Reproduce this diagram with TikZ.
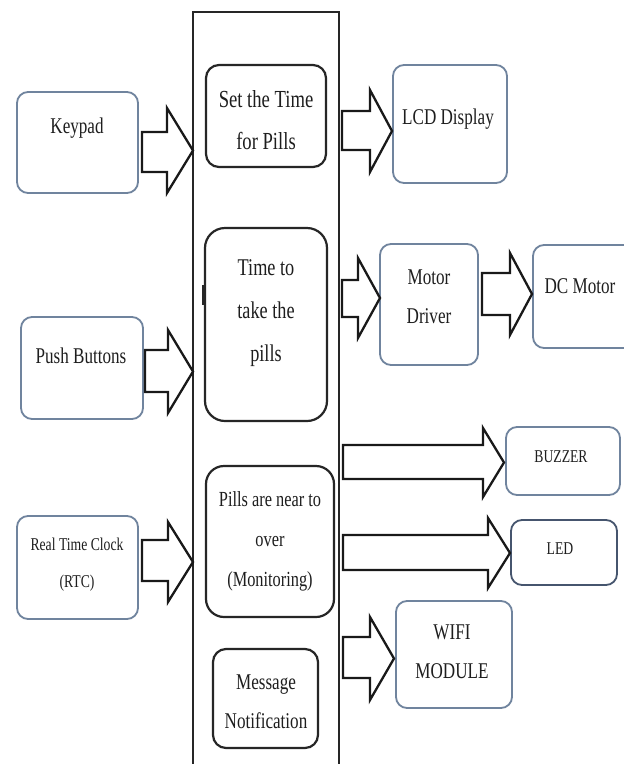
\documentclass[tikz,border=0pt]{standalone}
\usepackage{fontspec}
\setmainfont{Liberation Serif}[FakeStretch=0.76]
\usetikzlibrary{calc}
\definecolor{bluegray}{RGB}{112,132,158}
\definecolor{darkbg}{RGB}{70,85,110}
\definecolor{txt}{RGB}{30,30,30}
\newcommand\blkarrow[7]{%
  \draw[barrow] (#1,#4) -- (#2,#4) -- (#2,#6) -- (#3,{(#6+#7)/2}) -- (#2,#7) -- (#2,#5) -- (#1,#5) -- cycle;}
\begin{document}
\begin{tikzpicture}[x=1pt,y=-1pt,
  bbox/.style={draw=bluegray, line width=1.8pt, rounded corners=11pt, fill=white, inner sep=0pt},
  kbox/.style={draw=black!85, line width=2.2pt, rounded corners=13pt, fill=white, inner sep=0pt},
  lbl/.style={text=txt, align=center, inner sep=0pt, font=\fontsize{22.5}{39}\selectfont},
  slbl/.style={text=txt, align=center, inner sep=0pt, font=\fontsize{18}{37}\selectfont},
  barrow/.style={draw=black!90, line width=2.3pt, fill=white, line join=miter}]
\clip (0,0) rectangle (624,764);
\fill[white] (0,0) rectangle (624,764);
% main controller column (open at the bottom)
\node[draw=black!85, line width=2pt, minimum width=146pt, minimum height=800pt, inner sep=0pt] (ctrl) at (266,412) {};
% input boxes
\node[bbox, minimum width=121pt, minimum height=101pt] (kp) at (77.5,142.5) {};
\node[bbox, minimum width=122pt, minimum height=102pt] (pb) at (82,368) {};
\node[bbox, minimum width=121pt, minimum height=103pt] (rtc) at (77.5,567.5) {};
% inner boxes
\node[kbox, minimum width=120pt, minimum height=102pt] (set) at (266,116) {};
\node[kbox, minimum width=122pt, minimum height=193pt, rounded corners=20pt] (take) at (266,324.5) {};
\node[kbox, minimum width=128pt, minimum height=151pt, rounded corners=18pt] (near) at (270,541.5) {};
\node[kbox, minimum width=105pt, minimum height=99pt] (msg) at (265.5,698.5) {};
\draw[line width=3pt, black!85] (203.5,285) -- (203.5,305);
% output boxes
\node[bbox, minimum width=114pt, minimum height=118pt] (lcd) at (450,124) {};
\node[bbox, minimum width=98pt, minimum height=121pt] (md) at (429,304.5) {};
\node[bbox, minimum width=107pt, minimum height=103pt] (dc) at (586.5,296.5) {};
\node[bbox, minimum width=114pt, minimum height=68pt] (buz) at (563,461) {};
\node[bbox, draw=darkbg, minimum width=106pt, minimum height=65pt] (led) at (564,552.5) {};
\node[bbox, minimum width=116pt, minimum height=107pt] (wifi) at (454,654.5) {};
% labels
\node[lbl] (kpt) at (77,128) {Keypad};
\node[lbl] (pbt) at (81,356) {Push Buttons};
\node[slbl] (rtct) at (77,565) {Real Time Clock\\(RTC)};
\node[lbl, font=\fontsize{24.5}{42}\selectfont] (sett) at (266,120) {Set the Time\\for Pills};
\node[lbl, font=\fontsize{24}{43}\selectfont] (taket) at (266,313) {Time to\\take the\\pills};
\node[lbl, font=\fontsize{21.5}{40}\selectfont] (neart) at (270,541) {Pills are near to\\over\\(Monitoring)};
\node[lbl] (msgt) at (266,702) {Message\\Notification};
\node[lbl] (lcdt) at (448,119) {LCD Display};
\node[lbl] (mdt) at (429,297) {Motor\\Driver};
\node[lbl] (dct) at (580,286) {DC Motor};
\node[slbl] (buzt) at (561,457) {BUZZER};
\node[slbl] (ledt) at (560,549) {LED};
\node[lbl] (wifit) at (452,652) {WIFI\\MODULE};
% block arrows
\blkarrow{142}{167}{193}{132}{172}{108}{193}
\blkarrow{145}{168}{193}{350}{392}{330}{413}
\blkarrow{142}{168}{193}{540}{581}{522}{602}
\blkarrow{342}{370}{392}{111}{150}{90}{172}
\blkarrow{342}{358}{380}{280}{317}{258}{338}
\blkarrow{482}{510}{532}{273}{315}{253}{335}
\blkarrow{343}{483}{504}{445}{479}{428}{497}
\blkarrow{343}{488}{510}{535}{570}{518}{588}
\blkarrow{343}{370}{394}{637}{678}{617}{700}
\end{tikzpicture}
\end{document}
